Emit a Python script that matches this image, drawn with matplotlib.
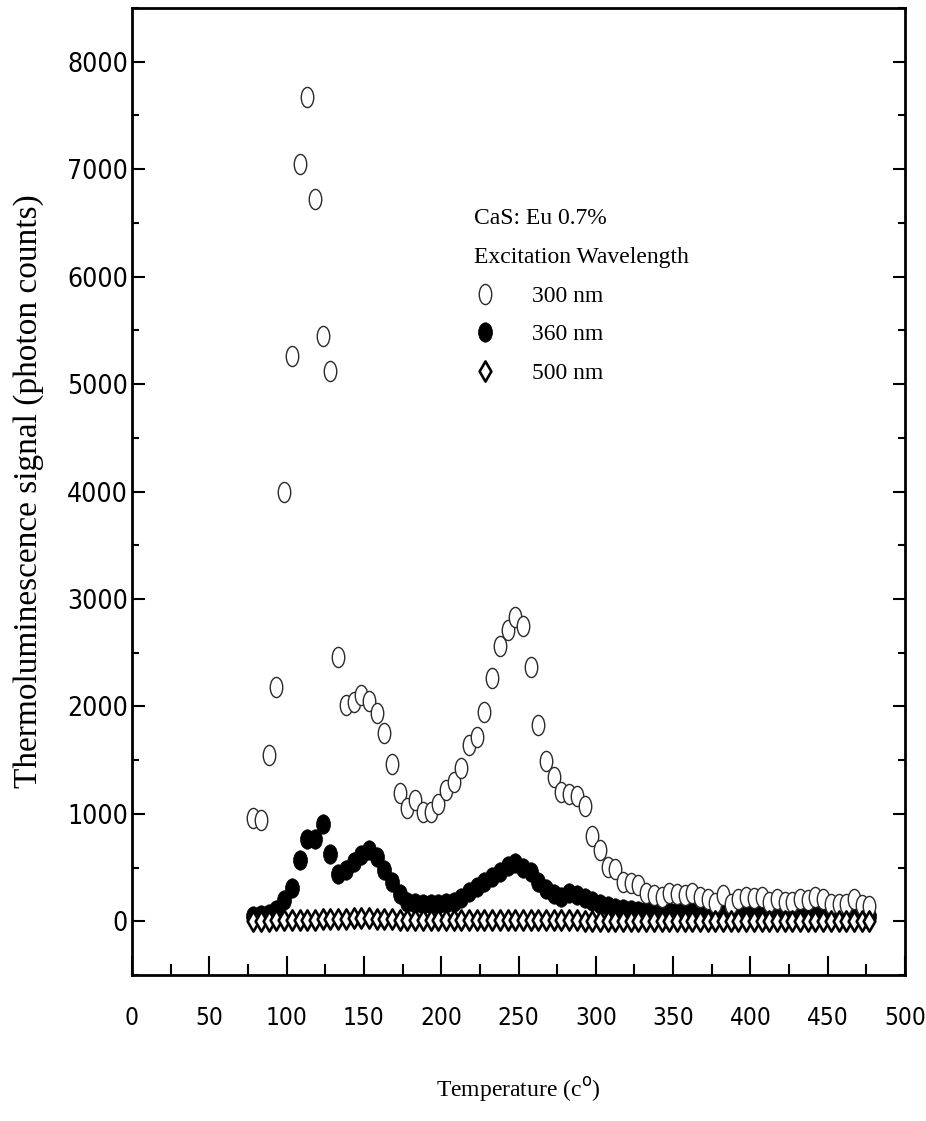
import numpy as np
import matplotlib
matplotlib.use("Agg")
import matplotlib.pyplot as plt
from matplotlib.path import Path
from matplotlib.transforms import Affine2D
from matplotlib.ticker import MultipleLocator
from matplotlib import font_manager

# ---------------- data ----------------
temperature = np.round(np.linspace(78.5, 477.0, 81), 1)

signal_300nm = [960, 940, 1546, 2176, 3998, 5265, 7050, 7672, 6722, 5446,
                5120, 2460, 2010, 2043, 2105, 2050, 1940, 1755, 1468, 1195,
                1050, 1130, 1017, 1017, 1095, 1220, 1300, 1425, 1644, 1713,
                1952, 2265, 2558, 2710, 2828, 2750, 2365, 1830, 1490, 1344,
                1203, 1188, 1164, 1071, 791, 661, 506, 490, 370, 355,
                335, 265, 240, 226, 265, 250, 240, 265, 226, 211,
                170, 240, 164, 211, 226, 220, 226, 180, 211, 180,
                180, 211, 195, 226, 211, 164, 164, 164, 211, 150, 140]

signal_360nm = [50, 60, 70, 102, 196, 313, 568, 770, 770, 909,
                624, 443, 475, 552, 614, 661, 598, 475, 365, 257,
                180, 170, 165, 160, 165, 170, 180, 220, 270, 320,
                370, 410, 459, 510, 540, 500, 460, 365, 300, 255,
                230, 260, 245, 215, 185, 160, 140, 125, 110, 105,
                100, 95, 95, 90, 90, 85, 85, 85, 80, 80,
                80, 75, 75, 70, 70, 70, 65, 65, 60, 60,
                60, 55, 55, 55, 50, 50, 50, 50, 50, 50, 50]

signal_500nm = [0, 5, 5, 10, 10, 10, 15, 15, 15, 20,
                20, 20, 25, 30, 30, 30, 25, 20, 20, 15,
                15, 15, 10, 10, 10, 10, 10, 10, 10, 10,
                10, 10, 10, 10, 15, 15, 10, 10, 10, 10,
                10, 10, 10, 5, 5, 5, 5, 5, 5, 5,
                5, 5, 5, 5, 5, 5, 5, 5, 5, 5,
                5, 5, 5, 5, 0, 0, 0, 0, 0, 0,
                0, 0, 0, 0, 0, 0, 0, 0, 0, 0, 0]

series_labels = ["300 nm", "360 nm", "500 nm"]
legend_title = "CaS: Eu 0.7%\nExcitation Wavelength"
x_label = "Temperature (c$^{\\rm o}$)"
y_label = "Thermoluminescence signal (photon counts)"

# ---------------- fonts ----------------
serif = ["Liberation Serif", "DejaVu Serif"]


def pick_tick_font():
    """Return (FontProperties-kwargs, x size, y size) for a narrow sans font."""
    entries = font_manager.fontManager.ttflist
    for f in entries:
        if f.name == "Liberation Sans Narrow" and f.weight in (400, "normal", "regular") \
                and f.style == "normal":
            return dict(fname=f.fname), 21, 23
    for f in entries:
        if f.name in ("Liberation Sans", "DejaVu Sans", "Open Sans", "Noto Sans", "Roboto") \
                and "condensed" in str(f.stretch) and f.style == "normal" \
                and f.weight in (400, "normal", "regular"):
            return dict(fname=f.fname), 17.5, 19
    return dict(family=["Liberation Sans", "DejaVu Sans"]), 16, 17


tick_kw, x_tick_size, y_tick_size = pick_tick_font()


def ellipse_marker(aspect):
    circ = Path.unit_circle()
    return circ.transformed(Affine2D().scale(aspect, 1.0))


def diamond_marker(aspect):
    verts = [(0, 1), (aspect, 0), (0, -1), (-aspect, 0), (0, 1)]
    codes = [Path.MOVETO, Path.LINETO, Path.LINETO, Path.LINETO, Path.CLOSEPOLY]
    return Path(verts, codes)


open_m = ellipse_marker(0.62)
fill_m = ellipse_marker(0.72)
diam_m = diamond_marker(0.58)

fig = plt.figure(figsize=(9.26, 11.21), dpi=100)
ax = fig.add_axes([132 / 926, 1 - 975 / 1121, (905 - 132) / 926, (975 - 8) / 1121])

l1, = ax.plot(temperature, signal_300nm, linestyle="none", marker=open_m,
              markersize=14.5, markerfacecolor="white", markeredgecolor="#2a2a2a",
              markeredgewidth=1.0, zorder=3, label=series_labels[0])
l2, = ax.plot(temperature, signal_360nm, linestyle="none", marker=fill_m,
              markersize=14.0, markerfacecolor="black", markeredgecolor="black",
              markeredgewidth=0.5, zorder=2, label=series_labels[1])
l3, = ax.plot(temperature, signal_500nm, linestyle="none", marker=diam_m,
              markersize=14.5, markerfacecolor="white", markeredgecolor="black",
              markeredgewidth=1.9, zorder=4, label=series_labels[2])

ax.set_xlim(0, 500)
ax.set_ylim(-500, 8500)
ax.xaxis.set_major_locator(MultipleLocator(50))
ax.xaxis.set_minor_locator(MultipleLocator(25))
ax.yaxis.set_major_locator(MultipleLocator(1000))
ax.yaxis.set_minor_locator(MultipleLocator(500))

for s in ax.spines.values():
    s.set_linewidth(2.0)

ax.tick_params(axis="x", which="both", direction="in", top=False, bottom=True,
               width=1.5)
ax.tick_params(axis="x", which="major", length=14, pad=22)
ax.tick_params(axis="x", which="minor", length=8)
ax.tick_params(axis="y", which="both", direction="in", left=True, right=True,
               width=1.5)
ax.tick_params(axis="y", which="major", length=9, pad=3)
ax.tick_params(axis="y", which="minor", length=5)

for lab in ax.get_xticklabels():
    lab.set_fontproperties(font_manager.FontProperties(size=x_tick_size, **tick_kw))
for lab in ax.get_yticklabels():
    lab.set_fontproperties(font_manager.FontProperties(size=y_tick_size, **tick_kw))

ax.set_xlabel(x_label, family=serif, fontsize=17)
ax.set_ylabel(y_label, family=serif, fontsize=24)
ax.xaxis.set_label_coords(0.5, (975 - 1090) / 967)
ax.xaxis.label.set_va("center")
ax.yaxis.set_label_coords((29 - 132) / 773, 0.5)
ax.yaxis.label.set_va("center")

leg = ax.legend(handles=[l1, l2, l3], title=legend_title, loc="upper left",
                bbox_to_anchor=((474 - 132) / 773, (975 - 208) / 967),
                frameon=False, prop={"family": serif, "size": 17},
                title_fontproperties={"family": serif, "size": 17},
                alignment="left", handlelength=0.9, handletextpad=1.55,
                labelspacing=0.72, borderpad=0, borderaxespad=0)
leg.get_title().set_linespacing(2.15)

fig.savefig("out.png", dpi=100)
